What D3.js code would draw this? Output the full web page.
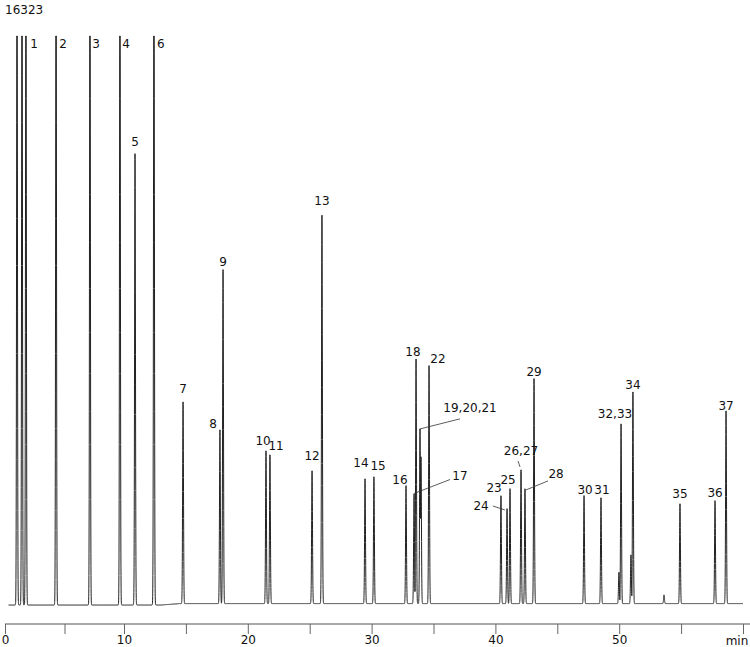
<!DOCTYPE html>
<html><head><meta charset="utf-8">
<script src="https://cdn.jsdelivr.net/npm/d3@7"></script>
<style>body{margin:0;background:#fff}text{font-family:"DejaVu Sans",Verdana,sans-serif}</style>
</head><body><svg id="c" width="750" height="647"></svg>
<script>
const yMax = 16323;
// peak retention times (min) and heights (signal)
const peakTimes = [1.01,1.43,1.76,4.29,7.14,9.66,10.89,12.42,14.77,17.75,18.00,21.47,21.79,25.19,25.99,29.47,30.19,32.78,33.43,33.59,33.91,33.99,34.64,40.45,40.94,41.18,42.07,42.39,43.12,47.16,48.53,49.98,50.15,50.95,51.11,53.62,54.91,57.74,58.63];
const peakHeights = [20000,20000,20000,20000,20000,20000,12968,20000,5795,4992,9582,4390,4275,3816,11160,3586,3644,3385,3156,7029,5021,4217,6828,3099,2726,3299,3844,3299,6455,3099,3041,900,5164,1400,6082,250,2869,2955,5537];
const baseTimes = [0.3,13,14.5,60];
const baseValues = [0,0,40,40];
// peak labels: text, time, signal
const labelText = ["1","2","3","4","5","6","7","8","9","10","11","12","13","14","15","16","17","18","19,20,21","22","23","24","25","26,27","28","29","30","31","32,33","34","35","36","37"];
const labelTime = [2.44,4.87,7.65,10.16,10.89,12.97,14.77,17.19,18.00,21.23,22.28,25.19,25.99,29.14,30.52,32.29,37.14,33.34,37.95,35.36,39.89,38.84,41.02,42.07,44.90,43.12,47.24,48.61,49.66,51.11,54.91,57.74,58.63];
const labelValue = [15980,15980,15980,15980,13169,15980,6082,5078,9726,4590,4447,4160,11476,3959,3873,3471,3586,7144,5537,6943,3242,2726,3471,4304,3644,6570,3185,3185,5365,6197,3070,3099,5595];
// leader lines: [t1,v1,t2,v2]
const leaders = [[33.43,3200,36.34,3600],[33.91,5050,37.14,5340],[39.80,2840,40.77,2726],[41.99,3960,41.83,4130],[42.47,3300,44.25,3560]];
const xTicks = [0,5,10,15,20,25,30,35,40,45,50,55,60];

const svg = d3.select("#c");
const x = d3.scaleLinear().domain([0,10,60]).range([5,124,743]);
const y = d3.scaleLinear().domain([0,yMax]).range([605,36]);
const base = d3.scaleLinear().domain(baseTimes).range(baseValues);

const pts = [];
for (let t = 0.3; t <= 60; t += 0.004) {
  let v = 0;
  peakTimes.forEach((pt,i)=>{ const d=(t-pt)/0.035; if (Math.abs(d)<6) v=Math.max(v, peakHeights[i]*Math.exp(-0.5*d*d)); });
  pts.push([t, Math.min(base(t)+v, yMax)]);
}
svg.append("path").datum(pts).attr("fill","none").attr("stroke","#222").attr("stroke-width",1)
  .attr("d", d3.line().x(d=>x(d[0])).y(d=>y(d[1])));

svg.selectAll(".ld").data(leaders).join("line").attr("stroke","#333").attr("stroke-width",0.8)
  .attr("x1",d=>x(d[0])).attr("y1",d=>y(d[1])).attr("x2",d=>x(d[2])).attr("y2",d=>y(d[3]));

svg.selectAll(".lb").data(labelText).join("text").attr("font-size",12).attr("text-anchor","middle")
  .attr("x",(d,i)=>x(labelTime[i])).attr("y",(d,i)=>y(labelValue[i])).attr("fill","#111").text(d=>d);

svg.append("text").attr("x",5).attr("y",14).attr("font-size",12).attr("fill","#111").text(yMax);

const ax = svg.append("g").attr("transform","translate(0,624)")
  .call(d3.axisBottom(x).tickValues(xTicks).tickSize(10).tickSizeOuter(0).tickFormat(d=>(d%10===0 && d<60)?d:""));
ax.select(".domain").attr("stroke","#555").attr("d","M5,0H750");
ax.selectAll(".tick line").attr("stroke","#666");
ax.selectAll(".tick text").attr("font-size",12).attr("font-family","DejaVu Sans").attr("fill","#111").attr("y",12).attr("dy","0.7em");
svg.append("text").attr("x",737).attr("y",645).attr("font-size",12).attr("text-anchor","middle").attr("fill","#111").text("min");
</script></body></html>
